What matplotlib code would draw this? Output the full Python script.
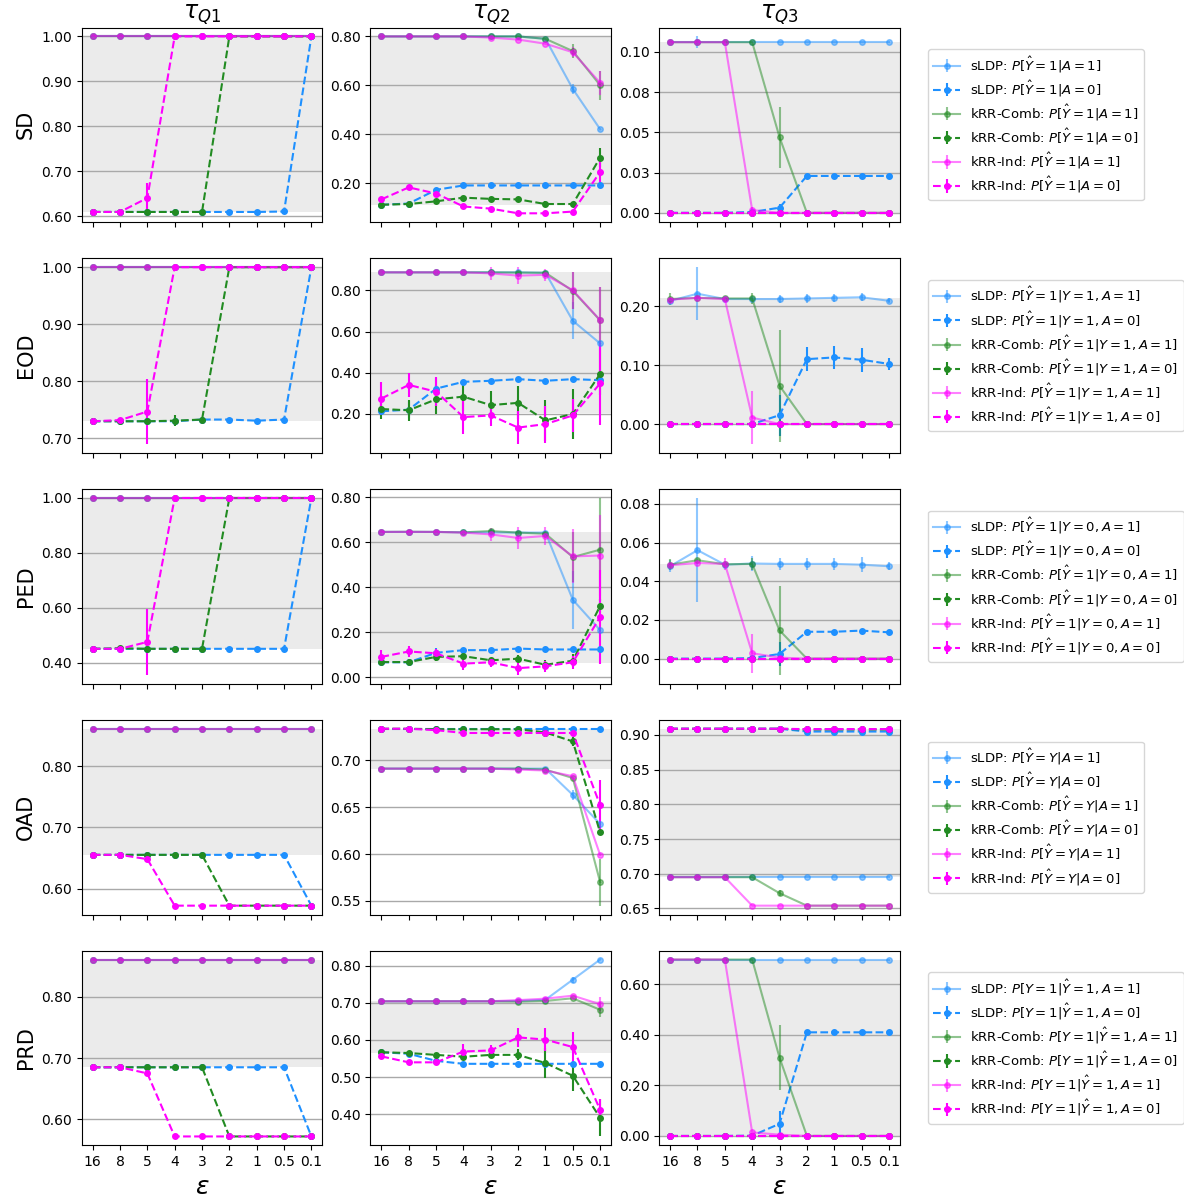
import matplotlib
matplotlib.use('Agg')
import matplotlib.pyplot as plt
from matplotlib.ticker import FormatStrFormatter, MaxNLocator, MultipleLocator

# x categories (privacy budget)
EPS = ['16', '8', '5', '4', '3', '2', '1', '0.5', '0.1']
ROWS = ['SD', 'EOD', 'PED', 'OAD', 'PRD']
COLS = [r'$\tau_{Q1}$', r'$\tau_{Q2}$', r'$\tau_{Q3}$']
METHODS = ['sLDP', 'kRR-Comb', 'kRR-Ind']

# conditional probability shown in each row's legend (A=1, A=0)
PROBS = {
    'SD': [r'$P[\hat{Y}=1|A=1]$', r'$P[\hat{Y}=1|A=0]$'],
    'EOD': [r'$P[\hat{Y}=1|Y=1,A=1]$', r'$P[\hat{Y}=1|Y=1,A=0]$'],
    'PED': [r'$P[\hat{Y}=1|Y=0,A=1]$', r'$P[\hat{Y}=1|Y=0,A=0]$'],
    'OAD': [r'$P[\hat{Y}=Y|A=1]$', r'$P[\hat{Y}=Y|A=0]$'],
    'PRD': [r'$P[Y=1|\hat{Y}=1,A=1]$', r'$P[Y=1|\hat{Y}=1,A=0]$'],
}

# series order in every panel: sLDP A=1, sLDP A=0, Comb A=1, Comb A=0, Ind A=1, Ind A=0
SD_Q1 = [
    [1.00, 1.00, 1.00, 1.00, 1.00, 1.00, 1.00, 1.00, 1.00],
    [0.61, 0.61, 0.61, 0.61, 0.61, 0.61, 0.61, 0.611, 1.00],
    [1.00, 1.00, 1.00, 1.00, 1.00, 1.00, 1.00, 1.00, 1.00],
    [0.61, 0.61, 0.61, 0.61, 0.61, 1.00, 1.00, 1.00, 1.00],
    [1.00, 1.00, 1.00, 1.00, 1.00, 1.00, 1.00, 1.00, 1.00],
    [0.61, 0.61, 0.641, 1.00, 1.00, 1.00, 1.00, 1.00, 1.00],
]
SD_Q1_ERR = {5: {2: 0.034}}
SD_Q1_BAND = (0.61, 1.00)

SD_Q2 = [
    [0.80, 0.80, 0.80, 0.80, 0.80, 0.80, 0.79, 0.585, 0.42],
    [0.111, 0.116, 0.172, 0.19, 0.19, 0.19, 0.19, 0.19, 0.19],
    [0.80, 0.80, 0.80, 0.80, 0.80, 0.80, 0.79, 0.74, 0.60],
    [0.111, 0.114, 0.125, 0.14, 0.135, 0.133, 0.114, 0.114, 0.304],
    [0.80, 0.80, 0.80, 0.80, 0.795, 0.787, 0.77, 0.735, 0.61],
    [0.133, 0.182, 0.157, 0.104, 0.095, 0.076, 0.076, 0.083, 0.245],
]
SD_Q2_ERR = {0: {7: 0.02}, 2: {7: 0.03, 8: 0.06}, 3: {6: 0.012, 8: 0.04},
             4: {7: 0.02, 8: 0.05}, 5: {8: 0.05}}
SD_Q2_BAND = (0.111, 0.80)

SD_Q3 = [
    [0.106, 0.106, 0.106, 0.106, 0.106, 0.106, 0.106, 0.106, 0.106],
    [0.0, 0.0, 0.0, 0.0005, 0.0032, 0.0229, 0.0229, 0.0229, 0.0229],
    [0.106, 0.106, 0.106, 0.106, 0.047, 0.0, 0.0, 0.0, 0.0],
    [0.0, 0.0, 0.0, 0.0, 0.0, 0.0, 0.0, 0.0, 0.0],
    [0.106, 0.106, 0.106, 0.0017, 0.0, 0.0, 0.0, 0.0, 0.0],
    [0.0, 0.0, 0.0, 0.0, 0.0, 0.0, 0.0, 0.0, 0.0],
]
SD_Q3_ERR = {0: {1: 0.0036}, 1: {4: 0.002}, 2: {4: 0.019}, 4: {3: 0.002}}
SD_Q3_BAND = (0.0, 0.106)

EOD_Q1 = [
    [1.00, 1.00, 1.00, 1.00, 1.00, 1.00, 1.00, 1.00, 1.00],
    [0.73, 0.73, 0.73, 0.73, 0.733, 0.733, 0.731, 0.733, 1.00],
    [1.00, 1.00, 1.00, 1.00, 1.00, 1.00, 1.00, 1.00, 1.00],
    [0.73, 0.73, 0.73, 0.731, 0.733, 1.00, 1.00, 1.00, 1.00],
    [1.00, 1.00, 1.00, 1.00, 1.00, 1.00, 1.00, 1.00, 1.00],
    [0.73, 0.732, 0.747, 1.00, 1.00, 1.00, 1.00, 1.00, 1.00],
]
EOD_Q1_ERR = {3: {3: 0.01}, 5: {2: 0.057}}
EOD_Q1_BAND = (0.73, 1.00)

EOD_Q2 = [
    [0.887, 0.887, 0.887, 0.887, 0.887, 0.887, 0.885, 0.652, 0.542],
    [0.213, 0.221, 0.323, 0.356, 0.361, 0.369, 0.361, 0.369, 0.364],
    [0.887, 0.887, 0.887, 0.887, 0.887, 0.886, 0.885, 0.797, 0.654],
    [0.224, 0.218, 0.271, 0.284, 0.243, 0.254, 0.169, 0.20, 0.394],
    [0.887, 0.887, 0.887, 0.887, 0.882, 0.871, 0.875, 0.80, 0.655],
    [0.275, 0.341, 0.308, 0.185, 0.193, 0.134, 0.151, 0.193, 0.348],
]
EOD_Q2_ERR = {0: {7: 0.09, 8: 0.01}, 1: {1: 0.04, 2: 0.05},
              2: {7: 0.09, 8: 0.16},
              3: {0: 0.05, 1: 0.05, 2: 0.07, 3: 0.07, 4: 0.07, 5: 0.08, 6: 0.1, 7: 0.12, 8: 0.1},
              4: {4: 0.03, 5: 0.04, 6: 0.03, 7: 0.09, 8: 0.16},
              5: {0: 0.08, 1: 0.06, 2: 0.07, 3: 0.08, 4: 0.05, 5: 0.08, 6: 0.09, 7: 0.08, 8: 0.2}}
EOD_Q2_BAND = (0.205, 0.887)

EOD_Q3 = [
    [0.209, 0.221, 0.212, 0.212, 0.212, 0.213, 0.214, 0.215, 0.209],
    [0.0, 0.0, 0.0, 0.0, 0.015, 0.110, 0.113, 0.109, 0.102],
    [0.212, 0.214, 0.213, 0.213, 0.065, 0.0, 0.0, 0.0, 0.0],
    [0.0, 0.0, 0.0, 0.0, 0.0, 0.0, 0.0, 0.0, 0.0],
    [0.211, 0.214, 0.212, 0.011, 0.0, 0.0, 0.0, 0.0, 0.0],
    [0.0, 0.0, 0.0, 0.0, 0.0, 0.0, 0.0, 0.0, 0.0],
]
EOD_Q3_ERR = {0: {0: 0.005, 1: 0.045, 4: 0.007, 5: 0.007, 6: 0.007, 7: 0.007, 8: 0.004},
              1: {4: 0.035, 5: 0.02, 6: 0.02, 7: 0.02, 8: 0.01},
              2: {0: 0.01, 3: 0.01, 4: 0.095}, 4: {3: 0.045}}
EOD_Q3_BAND = (0.0, 0.213)

PED_Q1 = [
    [1.00, 1.00, 1.00, 1.00, 1.00, 1.00, 1.00, 1.00, 1.00],
    [0.45, 0.45, 0.45, 0.45, 0.45, 0.45, 0.45, 0.45, 1.00],
    [1.00, 1.00, 1.00, 1.00, 1.00, 1.00, 1.00, 1.00, 1.00],
    [0.45, 0.452, 0.45, 0.45, 0.45, 1.00, 1.00, 1.00, 1.00],
    [1.00, 1.00, 1.00, 1.00, 1.00, 1.00, 1.00, 1.00, 1.00],
    [0.45, 0.45, 0.475, 1.00, 1.00, 1.00, 1.00, 1.00, 1.00],
]
PED_Q1_ERR = {5: {2: 0.12}}
PED_Q1_BAND = (0.45, 1.00)

PED_Q2 = [
    [0.646, 0.646, 0.646, 0.644, 0.644, 0.643, 0.643, 0.344, 0.209],
    [0.066, 0.066, 0.108, 0.12, 0.12, 0.127, 0.123, 0.123, 0.123],
    [0.646, 0.647, 0.646, 0.644, 0.650, 0.643, 0.638, 0.534, 0.567],
    [0.067, 0.067, 0.09, 0.093, 0.075, 0.082, 0.055, 0.073, 0.317],
    [0.646, 0.646, 0.646, 0.643, 0.635, 0.619, 0.628, 0.537, 0.541],
    [0.09, 0.114, 0.106, 0.06, 0.066, 0.04, 0.048, 0.066, 0.268],
]
PED_Q2_ERR = {0: {7: 0.13}, 1: {2: 0.02},
              2: {4: 0.01, 7: 0.11, 8: 0.23},
              3: {0: 0.01, 1: 0.015, 2: 0.02, 3: 0.015, 4: 0.01, 5: 0.015, 6: 0.02, 7: 0.03, 8: 0.03},
              4: {4: 0.03, 5: 0.05, 6: 0.04, 7: 0.12, 8: 0.18},
              5: {0: 0.03, 1: 0.025, 2: 0.02, 3: 0.03, 4: 0.02, 5: 0.03, 6: 0.025, 7: 0.03, 8: 0.21}}
PED_Q2_BAND = (0.063, 0.645)

PED_Q3 = [
    [0.0478, 0.0561, 0.0486, 0.0492, 0.049, 0.049, 0.049, 0.0486, 0.0478],
    [0.0, 0.0, 0.0, 0.0003, 0.0024, 0.0139, 0.0139, 0.0145, 0.0136],
    [0.0486, 0.0509, 0.0488, 0.049, 0.0146, 0.0, 0.0, 0.0, 0.0],
    [0.0, 0.0, 0.0, 0.0, 0.0, 0.0, 0.0, 0.0, 0.0],
    [0.0483, 0.0495, 0.049, 0.0028, 0.0005, 0.0, 0.0, 0.0, 0.0],
    [0.0, 0.0, 0.0, 0.0, 0.0, 0.0, 0.0, 0.0, 0.0],
]
PED_Q3_ERR = {0: {0: 0.003, 1: 0.027, 3: 0.004, 4: 0.003, 5: 0.003, 6: 0.003, 7: 0.004, 8: 0.002},
              1: {4: 0.006}, 2: {0: 0.003, 3: 0.003, 4: 0.023}, 4: {2: 0.003, 3: 0.01}}
PED_Q3_BAND = (0.0, 0.0492)

OAD_Q1 = [
    [0.861, 0.861, 0.861, 0.861, 0.861, 0.861, 0.861, 0.861, 0.861],
    [0.655, 0.655, 0.655, 0.655, 0.655, 0.655, 0.655, 0.655, 0.572],
    [0.861, 0.861, 0.861, 0.861, 0.861, 0.861, 0.861, 0.861, 0.861],
    [0.655, 0.655, 0.655, 0.655, 0.655, 0.572, 0.572, 0.572, 0.572],
    [0.861, 0.861, 0.861, 0.861, 0.861, 0.861, 0.861, 0.861, 0.861],
    [0.655, 0.655, 0.648, 0.572, 0.572, 0.572, 0.572, 0.572, 0.572],
]
OAD_Q1_ERR = {}
OAD_Q1_BAND = (0.655, 0.861)

OAD_Q2 = [
    [0.691, 0.691, 0.691, 0.691, 0.691, 0.691, 0.691, 0.663, 0.632],
    [0.7335, 0.7335, 0.7335, 0.7335, 0.7335, 0.7335, 0.7335, 0.7335, 0.7335],
    [0.691, 0.691, 0.691, 0.691, 0.691, 0.691, 0.690, 0.681, 0.570],
    [0.7335, 0.7335, 0.733, 0.733, 0.733, 0.733, 0.7295, 0.720, 0.623],
    [0.691, 0.691, 0.691, 0.691, 0.691, 0.690, 0.689, 0.683, 0.599],
    [0.7335, 0.7335, 0.732, 0.729, 0.729, 0.729, 0.729, 0.729, 0.652],
]
OAD_Q2_ERR = {0: {7: 0.005}, 2: {8: 0.025}, 3: {7: 0.005}, 5: {8: 0.027}}
OAD_Q2_BAND = (0.691, 0.7335)

OAD_Q3 = [
    [0.695, 0.695, 0.695, 0.695, 0.695, 0.695, 0.695, 0.695, 0.695],
    [0.909, 0.909, 0.909, 0.909, 0.909, 0.905, 0.905, 0.905, 0.905],
    [0.695, 0.695, 0.695, 0.695, 0.672, 0.654, 0.654, 0.654, 0.654],
    [0.909, 0.909, 0.909, 0.909, 0.909, 0.908, 0.908, 0.908, 0.908],
    [0.695, 0.695, 0.695, 0.654, 0.654, 0.654, 0.654, 0.654, 0.654],
    [0.909, 0.909, 0.909, 0.909, 0.909, 0.9085, 0.9085, 0.9085, 0.9085],
]
OAD_Q3_ERR = {2: {4: 0.004}}
OAD_Q3_BAND = (0.695, 0.909)

PRD_Q1 = [
    [0.861, 0.861, 0.861, 0.861, 0.861, 0.861, 0.861, 0.861, 0.861],
    [0.685, 0.685, 0.685, 0.685, 0.685, 0.685, 0.685, 0.685, 0.572],
    [0.861, 0.861, 0.861, 0.861, 0.861, 0.861, 0.861, 0.861, 0.861],
    [0.685, 0.685, 0.685, 0.685, 0.685, 0.572, 0.572, 0.572, 0.572],
    [0.861, 0.861, 0.861, 0.861, 0.861, 0.861, 0.861, 0.861, 0.861],
    [0.685, 0.685, 0.675, 0.572, 0.572, 0.572, 0.572, 0.572, 0.572],
]
PRD_Q1_ERR = {}
PRD_Q1_BAND = (0.685, 0.861)

PRD_Q2 = [
    [0.704, 0.704, 0.704, 0.704, 0.704, 0.705, 0.708, 0.762, 0.816],
    [0.567, 0.563, 0.544, 0.536, 0.536, 0.536, 0.536, 0.536, 0.536],
    [0.704, 0.704, 0.704, 0.704, 0.704, 0.703, 0.705, 0.712, 0.681],
    [0.567, 0.565, 0.560, 0.555, 0.560, 0.560, 0.538, 0.504, 0.391],
    [0.704, 0.704, 0.704, 0.704, 0.704, 0.707, 0.711, 0.719, 0.696],
    [0.556, 0.540, 0.540, 0.569, 0.572, 0.607, 0.601, 0.581, 0.412],
]
PRD_Q2_ERR = {0: {7: 0.008}, 2: {8: 0.02},
              3: {5: 0.015, 6: 0.04, 7: 0.04, 8: 0.05}, 4: {8: 0.02},
              5: {3: 0.02, 4: 0.015, 5: 0.025, 6: 0.03, 7: 0.04, 8: 0.03}}
PRD_Q2_BAND = (0.565, 0.704)

PRD_Q3 = [
    [0.698, 0.698, 0.698, 0.698, 0.698, 0.698, 0.698, 0.698, 0.698],
    [0.0, 0.0, 0.0, 0.001, 0.048, 0.41, 0.41, 0.41, 0.41],
    [0.698, 0.698, 0.698, 0.698, 0.31, 0.0, 0.0, 0.0, 0.0],
    [0.0, 0.0, 0.0, 0.0, 0.0, 0.0, 0.0, 0.0, 0.0],
    [0.698, 0.698, 0.698, 0.014, 0.005, 0.0, 0.0, 0.0, 0.0],
    [0.0, 0.0, 0.0, 0.0, 0.0, 0.0, 0.0, 0.0, 0.0],
]
PRD_Q3_ERR = {1: {4: 0.05}, 2: {4: 0.13}}
PRD_Q3_BAND = (0.0, 0.698)

PANELS = [
    [(SD_Q1, SD_Q1_ERR, SD_Q1_BAND), (SD_Q2, SD_Q2_ERR, SD_Q2_BAND), (SD_Q3, SD_Q3_ERR, SD_Q3_BAND)],
    [(EOD_Q1, EOD_Q1_ERR, EOD_Q1_BAND), (EOD_Q2, EOD_Q2_ERR, EOD_Q2_BAND), (EOD_Q3, EOD_Q3_ERR, EOD_Q3_BAND)],
    [(PED_Q1, PED_Q1_ERR, PED_Q1_BAND), (PED_Q2, PED_Q2_ERR, PED_Q2_BAND), (PED_Q3, PED_Q3_ERR, PED_Q3_BAND)],
    [(OAD_Q1, OAD_Q1_ERR, OAD_Q1_BAND), (OAD_Q2, OAD_Q2_ERR, OAD_Q2_BAND), (OAD_Q3, OAD_Q3_ERR, OAD_Q3_BAND)],
    [(PRD_Q1, PRD_Q1_ERR, PRD_Q1_BAND), (PRD_Q2, PRD_Q2_ERR, PRD_Q2_BAND), (PRD_Q3, PRD_Q3_ERR, PRD_Q3_BAND)],
]

# SD / tau_Q3 panel uses quarter-step ticks in the original
TICK_STEP = {(0, 2): 0.025}

COLORS = ['dodgerblue', 'forestgreen', 'magenta']


def draw_panel(ax, means, errs, band, row_name, step=None, legend=False):
    x = list(range(len(EPS)))
    ax.axhspan(band[0], band[1], color='#ebebeb', zorder=0, lw=0)
    for k, y in enumerate(means):
        method = k // 2
        a1 = (k % 2 == 0)
        e = [errs.get(k, {}).get(i, 0.0) for i in x]
        label = METHODS[method] + ': ' + PROBS[row_name][0 if a1 else 1]
        ax.errorbar(x, y, yerr=e, color=COLORS[method],
                    linestyle='-' if a1 else '--', alpha=0.5 if a1 else 1.0,
                    marker='o', markersize=4, lw=1.5, elinewidth=1.5,
                    capsize=0, label=label, zorder=3)
    ax.yaxis.grid(True, color='darkgray', lw=1, zorder=1)
    if step:
        ax.yaxis.set_major_locator(MultipleLocator(step))
    else:
        ax.yaxis.set_major_locator(MaxNLocator(nbins=6, steps=[1, 2, 2.5, 5, 10]))
    ax.yaxis.set_major_formatter(FormatStrFormatter('%.2f'))
    ax.set_xticks(x)
    ax.tick_params(labelsize=10)
    if legend:
        ax.legend(loc='center left', bbox_to_anchor=(1.09, 0.5), fontsize=9.5,
                  labelspacing=0.3)


def main():
    fig, axes = plt.subplots(5, 3, figsize=(11.84, 11.98), dpi=100, sharex=True)
    fig.subplots_adjust(left=0.069, right=0.760, top=0.977, bottom=0.044,
                        wspace=0.2, hspace=0.186)
    for r, row_name in enumerate(ROWS):
        for c in range(3):
            means, errs, band = PANELS[r][c]
            draw_panel(axes[r, c], means, errs, band, row_name,
                       step=TICK_STEP.get((r, c)), legend=(c == 2))
        axes[r, 0].set_ylabel(row_name, fontsize=15)
    for c in range(3):
        axes[0, c].set_title(COLS[c], fontsize=17)
        axes[4, c].set_xticklabels(EPS)
        axes[4, c].set_xlabel(r'$\epsilon$', fontsize=18)
    fig.savefig('out.png', dpi=100)


if __name__ == "__main__":
    main()
